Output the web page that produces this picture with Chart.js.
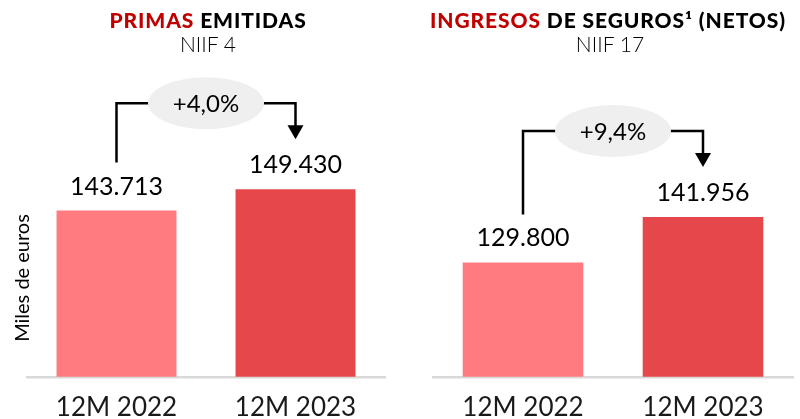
<!DOCTYPE html>
<html>
<head>
<meta charset="utf-8">
<script src="https://cdn.jsdelivr.net/npm/chart.js@4.4.1/dist/chart.umd.min.js"></script>
<style>
  html,body{margin:0;padding:0;background:#fff}
  #wrap{position:relative;width:800px;height:419px;overflow:hidden;font-family:Lato,'Open Sans',sans-serif}
  .cv{position:absolute;top:0}
  .ttl{position:absolute;top:9px;width:400px;text-align:center;font-size:21px;line-height:21px;font-weight:900;color:#000;white-space:nowrap;letter-spacing:0.9px}
  .ttl .red{color:#C00000}
  .sub{position:absolute;top:33px;width:400px;text-align:center;font-size:21px;line-height:21px;font-weight:300;color:#000}
  .ylab{position:absolute;left:-59px;top:268px;width:160px;text-align:center;font-size:20px;line-height:20px;color:#000;transform:rotate(-90deg);transform-origin:center}
</style>
</head>
<body>
<div id="wrap">
  <canvas id="c1" class="cv" style="left:0" width="400" height="440"></canvas>
  <canvas id="c2" class="cv" style="left:400px" width="400" height="440"></canvas>
  <div class="ttl" style="left:8px"><span class="red">PRIMAS</span> EMITIDAS</div>
  <div class="sub" style="left:8px">NIIF 4</div>
  <div class="ttl" style="left:408px"><span class="red">INGRESOS</span> DE SEGUROS¹ (NETOS)</div>
  <div class="sub" style="left:410px">NIIF 17</div>
  <div class="ylab">Miles de euros</div>
</div>
<script>
/* ─ data ─ */
const categories=['12M 2022','12M 2023'];
const primasValues=[143713,149430];
const ingresosValues=[129800,141956];
const barColors=['#FF7B80','#E5474A'];
const yMin=99200, yMax=184000;

const fmtNum=v=>String(v).replace(/\B(?=(\d{3})+(?!\d))/g,'.');
const fmtPct=(a,b)=>'+'+((b/a-1)*100).toFixed(1).replace('.',',')+'%';

/* ─ labels + bracket arrow ─ */
const annot={
  id:'annot',
  afterDatasetsDraw(chart){
    const ctx=chart.ctx;
    const vals=chart.data.datasets[0].data;
    const bars=chart.getDatasetMeta(0).data;
    const [b1,b2]=bars;
    ctx.save();
    ctx.fillStyle='#000';
    ctx.font='25px Lato';
    ctx.textAlign='center';
    ctx.textBaseline='alphabetic';
    bars.forEach((b,i)=>ctx.fillText(fmtNum(vals[i]),b.x,b.y-16));

    const by=Math.min(b1.y,b2.y)-86;
    const tip=b2.y-50;
    const xm=(b1.x+b2.x)/2;
    ctx.strokeStyle='#000';
    ctx.lineWidth=2.5;
    ctx.beginPath();
    ctx.moveTo(b1.x,b1.y-48);
    ctx.lineTo(b1.x,by);
    ctx.lineTo(b2.x,by);
    ctx.lineTo(b2.x,tip-12);
    ctx.stroke();
    ctx.beginPath();
    ctx.moveTo(b2.x-8,tip-14);
    ctx.lineTo(b2.x+8,tip-14);
    ctx.lineTo(b2.x,tip);
    ctx.closePath();
    ctx.fill();

    ctx.fillStyle='#EFEFEF';
    ctx.beginPath();
    ctx.ellipse(xm,by,58,26,0,0,Math.PI*2);
    ctx.fill();
    ctx.fillStyle='#000';
    ctx.font='24px Lato';
    ctx.textBaseline='middle';
    ctx.fillText(fmtPct(vals[0],vals[1]),xm,by+1);
    ctx.restore();
  }
};

function makePanel(id,values,padL,padR){
  return new Chart(document.getElementById(id),{
    type:'bar',
    data:{
      labels:categories,
      datasets:[{data:values,backgroundColor:barColors,borderWidth:0,barPercentage:1,categoryPercentage:0.67}]
    },
    options:{
      responsive:false,
      animation:false,
      devicePixelRatio:1,
      layout:{padding:{left:padL,right:padR,top:60,bottom:2}},
      plugins:{legend:{display:false},tooltip:{enabled:false},title:{display:false}},
      scales:{
        x:{
          grid:{display:false,drawTicks:false},
          border:{display:true,color:'#D9D9D9',width:2.5},
          ticks:{font:{family:'Lato',size:26},color:'#1a1a1a',padding:15}
        },
        y:{display:false,min:yMin,max:yMax}
      }
    },
    plugins:[annot]
  });
}

makePanel('c1',primasValues,27,15);
makePanel('c2',ingresosValues,33,7);
</script>
</body>
</html>
